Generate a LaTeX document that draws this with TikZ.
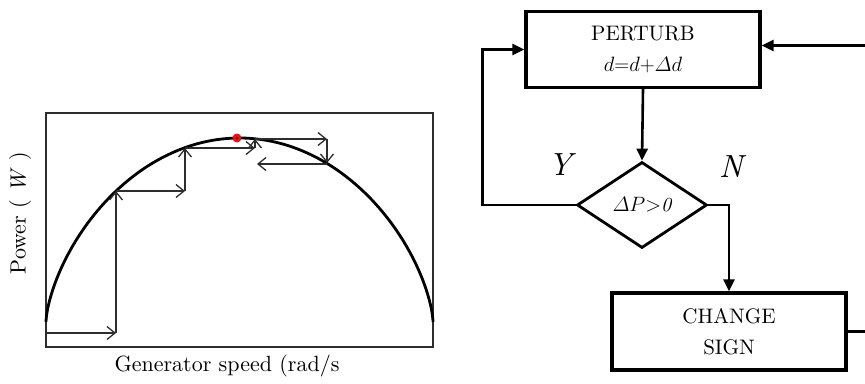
\documentclass[tikz,border=0pt]{standalone}
\usepackage{amsmath,amssymb}
\usepackage{fontspec}
\setmainfont{lmroman10-regular.otf}[ItalicFont=lmroman10-italic.otf]
\usepackage{tikz}
\usetikzlibrary{arrows.meta,positioning,calc,shapes.geometric}
\definecolor{peakred}{RGB}{225,20,25}
\definecolor{plotgray}{RGB}{45,45,45}
\tikzset{
  fbox/.style={draw, line width=3.4pt, minimum width=234pt, minimum height=76pt,
      align=center, inner sep=0pt, font=\fontsize{21}{31}\selectfont},
  fdec/.style={diamond, draw, line width=2.8pt, minimum width=130pt, minimum height=86pt,
      inner sep=0pt, font=\fontsize{20}{24}\selectfont},
  farr/.style={-{Triangle[length=12pt, width=11pt]}, line width=2.6pt},
  yn/.style={font=\fontsize{32}{36}\selectfont\itshape},
  sarr/.style={-{Straight Barb[length=8pt, width=13pt]}, line width=1.3pt, plotgray},
  alab/.style={font=\fontsize{22}{26}\selectfont},
}

\begin{document}
\begin{tikzpicture}[x=1pt, y=-1pt]
  \useasboundingbox (0,0) rectangle (865,383);
  \clip (0,0) rectangle (865,383);
  % power curve with the hill-climbing steps
  \draw[line width=1.4pt, plotgray] (46,113) rectangle (433,347);
  \draw[line width=2.8pt, domain=0.3:179.7, samples=120, variable=\t]
    plot ({239.5-193.5*cos(\t)}, {322-184*pow(sin(\t),1.3)});
  \draw[sarr] (46,333) -- (116,333);
  \draw[sarr] (116,333) -- (116,191);
  \draw[sarr] (116,191) -- (185,191);
  \draw[sarr] (185,191) -- (185,148);
  \draw[sarr] (185,148) -- (255,148);
  \draw[sarr] (255,148) -- (255,139);
  \draw[sarr] (255,139) -- (327,139);
  \draw[sarr] (327,139) -- (327,163);
  \draw[sarr] (327,164) -- (257,164);
  \fill[peakred] (237,138) circle (4.5pt);
  \fill[black!70!red] (237,138) circle (1pt);
  \node[alab, rotate=90] (ylab) at (20,213) {Power ( \textit{W} )};
  \node[alab] (xlab) at (227,366) {Generator speed (rad/s};
  % P&O flowchart
  \node[fbox] (perturb) at (643,49.5) {PERTURB\\ $d{=}d{+}\varDelta d$};
  \node[fdec] (dec) at (642,205) {$\varDelta P{>}\mathit{0}$};
  \node[fbox, minimum height=77pt] (sign) at (729,331.5) {CHANGE\\ SIGN};
  \node[yn] (ylbl) at (560,165) {Y};
  \node[yn] (nlbl) at (731,167) {N};
  \draw[farr] (perturb.south) -- (dec.north);
  \draw[farr] (dec.west) -- ++(-93,0) |- (perturb.west);
  \draw[farr] (dec.east) -| (sign.north);
  \draw[farr] (sign.east) -- ++(40,0) |- ($(perturb.east)+(0,-4)$);
\end{tikzpicture}
\end{document}
